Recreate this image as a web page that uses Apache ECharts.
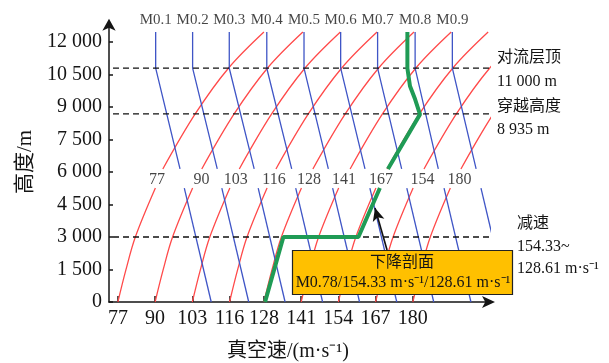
<!DOCTYPE html>
<html><head><meta charset="utf-8">
<script src="https://cdn.jsdelivr.net/npm/echarts@6/dist/echarts.min.js"></script>
<style>html,body{margin:0;padding:0;background:#fff}#c{width:609px;height:363px}</style>
</head><body><div id="c"></div>
<script>
// ---------------- data ----------------
const xTickValues = [77, 90, 103, 116, 128, 141, 154, 167, 180];
const xTickLabels = ['77', '90', '103', '116', '128', '141', '154', '167', '180'];
const yTickValues = [0, 1500, 3000, 4500, 6000, 7500, 9000, 10500, 12000];
const yTickLabels = ['0', '1 500', '3 000', '4 500', '6 000', '7 500', '9 000', '10 500', '12 000'];

// upper block: constant-Mach lines (blue)
const machLabels = ['M0.1', 'M0.2', 'M0.3', 'M0.4', 'M0.5', 'M0.6', 'M0.7', 'M0.8', 'M0.9'];
const machVertSpeed = [90.2, 103.1, 115.9, 129.0, 142.0, 154.8, 167.7, 180.8, 193.8]; // 10 790 .. 12 460 m
const machUpperLow  = [98.7, 111.7, 124.6, 137.7, 150.5, 163.3, 176.1, 188.9, 202.1]; // at 6 140 m
const upperTopAlt = 12460, upperKneeAlt = 10790, upperLowAlt = 6140, upperMidAlt = 8680;

// upper block: speed lines (red), speed at 6140 / 8680 / 10790 / 12460 m
const redUpperAt6140  = [92.7, 106.3, 119.4, 132.2, 145.1, 158.1, 171.0, 183.9, 196.8];
const redUpperAt8680  = [104.0, 117.6, 130.7, 143.5, 156.4, 169.4, 182.3, 195.2, 208.1];
const redUpperAt10790 = [115.6, 129.2, 142.3, 155.1, 168.0, 181.0, 193.9, 206.8, 219.7];
const redUpperAt12460 = [128.0, 141.6, 154.7, 167.5, 180.4, 193.4, 206.3, 219.2, 232.1];

// lower block: speed lines (red), speed at 0 / 1480 / 3000 / 5260 m
const redLowerAt0    = [77, 90, 103, 116, 128, 141, 154, 167, 180];
const redLowerAt1480 = [79.8, 92.8, 105.8, 118.8, 130.8, 143.8, 156.8, 169.8, 182.8];
const redLowerAt3000 = [83.1, 96.1, 109.1, 122.1, 134.1, 147.1, 160.1, 173.1, 186.1];
const redLowerAt5260 = [90.1, 103.1, 116.1, 129.1, 141.1, 154.1, 167.1, 180.1, 193.1];
const lowerTopAlt = 5260;

// lower block: constant-Mach lines (blue)
const blueLowerTop    = [100.2, 113.3, 126.0, 139.1, 152.0, 165.0, 177.9, 190.9, 203.8]; // at 5260 m
const blueLowerBottom = [109.6, 122.7, 135.4, 148.5, 161.4, 174.4, 187.3, 200.3, 213.2]; // at 0 m

// labels between the blocks
const midLabels = ['77', '90', '103', '116', '128', '141', '167', '154', '180'];
const midLabelSpeed = [90.7, 106.2, 118.2, 131.5, 143.7, 156.0, 168.9, 183.4, 196.3];
const midLabelAlt = 5630;
const machLabelAlt = 13010;

// reference (dashed) altitudes
const dashedAlts = [10790, 8680, 3000];
const dashedFrom = 75.3, dashedTo = 206.6;

// descent profile (green)
const descentUpper = [[178.1, 12460], [178.1, 10790], [179.0, 9970], [180.8, 9355], [182.5, 8660], [171.3, 6140]];
const descentLower = [[168.5, 5260], [161.0, 3000], [134.8, 3000], [128.4, 0]];
const arrowFrom = [171.0, 2400], arrowTo = [166.8, 4340];

// ---------------- chart ----------------
const SERIF = '"Liberation Serif", "Times New Roman", "Noto Sans CJK SC", serif';
const TXT = '#151515';
const RED = '#FF4A4A', BLUE = '#3F55C6', GREEN = '#1F9B55';

const series = [];
function addLine(data, color, width, extra) {
  series.push(Object.assign({
    type: 'line', data: data, showSymbol: false, symbol: 'none', silent: true,
    animation: false, clip: true, z: 2,
    lineStyle: { color: color, width: width }
  }, extra || {}));
}
for (let i = 0; i < 9; i++) {
  addLine([[redUpperAt6140[i], upperLowAlt], [redUpperAt8680[i], upperMidAlt],
           [redUpperAt10790[i], upperKneeAlt], [redUpperAt12460[i], upperTopAlt]], RED, 1.3, { smooth: 0.35 });
  addLine([[redLowerAt0[i], 0], [redLowerAt1480[i], 1480],
           [redLowerAt3000[i], 3000], [redLowerAt5260[i], lowerTopAlt]], RED, 1.3, { smooth: 0.35 });
}
for (let i = 0; i < 9; i++) {
  addLine([[machVertSpeed[i], upperTopAlt], [machVertSpeed[i], upperKneeAlt], [machUpperLow[i], upperLowAlt]], BLUE, 1.3);
  addLine([[blueLowerTop[i], lowerTopAlt], [blueLowerBottom[i], 0]], BLUE, 1.3);
}
dashedAlts.forEach(a => addLine([[dashedFrom, a], [dashedTo, a]], '#111', 1.3, { z: 3, lineStyle: { color: '#111', width: 1.3, type: [6, 4] } }));
addLine(descentUpper, GREEN, 4, { z: 4 });
addLine(descentLower, GREEN, 4, {
  z: 4,
  markLine: {
    silent: true, animation: false, symbol: ['none', 'arrow'], symbolSize: [9, 13],
    label: { show: false },
    lineStyle: { color: '#111', width: 1.6, type: 'solid' },
    data: [[{ coord: arrowFrom }, { coord: arrowTo }]]
  }
});
series.push({
  type: 'scatter', silent: true, animation: false, clip: false, symbolSize: 0, z: 5,
  data: machLabels.map((t, i) => ({ value: [machVertSpeed[i], machLabelAlt], name: t })),
  label: { show: true, position: 'inside', formatter: p => p.name, fontFamily: SERIF, fontSize: 15, color: TXT }
});
series.push({
  type: 'scatter', silent: true, animation: false, clip: false, symbolSize: 0, z: 5,
  data: midLabels.map((t, i) => ({ value: [midLabelSpeed[i], midLabelAlt], name: t })),
  label: { show: true, position: 'inside', formatter: p => p.name, fontFamily: SERIF, fontSize: 16, color: TXT }
});

function txt(text, x, y, size, align, extra) {
  return Object.assign({
    type: 'text', x: x, y: y, z: 110, silent: true,
    style: { text: text, x: 0, y: 0, font: size + 'px ' + SERIF, fill: TXT,
             textAlign: align || 'left', textVerticalAlign: 'middle', align: align || 'left', verticalAlign: 'middle' }
  }, extra || {});
}

const option = {
  animation: false,
  backgroundColor: '#fff',
  grid: { left: 109, top: 24.67, width: 380, height: 277.33, containLabel: false },
  xAxis: {
    type: 'value', min: 73.9, max: 206.6,
    axisLine: { show: true, onZero: false, lineStyle: { color: TXT, width: 1.5 },
                symbol: ['none', 'arrow'], symbolSize: [9, 13], symbolOffset: [0, 6] },
    axisTick: { show: true, inside: true, length: 6, customValues: xTickValues, lineStyle: { color: TXT, width: 1.5 } },
    axisLabel: { customValues: xTickValues, formatter: v => xTickLabels[xTickValues.indexOf(v)] || '',
                 fontFamily: SERIF, fontSize: 20, color: TXT, margin: 7 },
    splitLine: { show: false }
  },
  yAxis: {
    type: 'value', min: 0, max: 12800,
    axisLine: { show: true, onZero: false, lineStyle: { color: TXT, width: 1.5 },
                symbol: ['none', 'arrow'], symbolSize: [10, 12], symbolOffset: [0, 6] },
    axisTick: { show: true, inside: true, length: 4, customValues: yTickValues, lineStyle: { color: TXT, width: 1.5 } },
    axisLabel: { customValues: yTickValues, formatter: v => yTickLabels[yTickValues.indexOf(v)] || '',
                 fontFamily: SERIF, fontSize: 20, color: TXT, margin: 7 },
    splitLine: { show: false }
  },
  graphic: [
    { type: 'rect', z: 100, silent: true, shape: { x: 292.5, y: 250.5, width: 220, height: 44 },
      style: { fill: '#FFC000', stroke: '#222', lineWidth: 1.2 } },
    txt('下降剖面', 402, 263, 16, 'center'),
    txt('M0.78/154.33 m·s⁻¹/128.61 m·s⁻¹', 403, 283, 16, 'center'),
    txt('对流层顶', 497, 58, 16),
    txt('11 000 m', 497, 82, 16),
    txt('穿越高度', 497, 107, 16),
    txt('8 935 m', 497, 130, 16),
    txt('减速', 517, 224, 16),
    txt('154.33~', 517, 247, 16),
    txt('128.61 m·s⁻¹', 517, 269, 16),
    txt('真空速/(m·s⁻¹)', 288, 352, 20, 'center'),
    txt('高度/m', 25, 162, 21, 'center', { rotation: Math.PI / 2 })
  ],
  series: series
};
const chart = echarts.init(document.getElementById('c'), null, { renderer: 'canvas' });
chart.setOption(option);
</script></body></html>
